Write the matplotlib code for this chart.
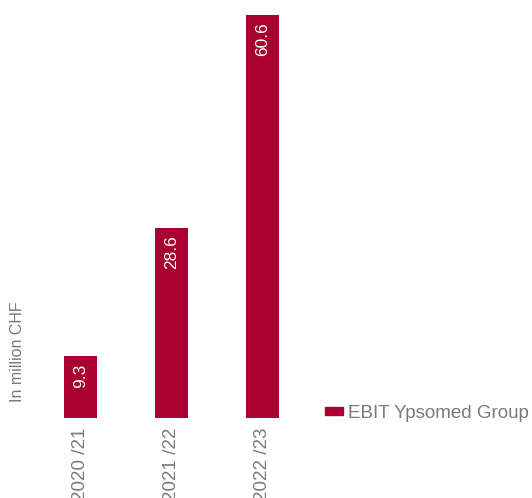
import matplotlib.pyplot as plt
import matplotlib.patches as mpatches

years = ['2020 /21', '2021 /22', '2022 /23']
ebit = [9.3, 28.6, 60.6]
bar_color = '#A8002F'
text_color = '#7a7a7a'

plt.rcParams['font.family'] = ['Liberation Sans', 'DejaVu Sans']

fig = plt.figure(figsize=(5.32, 4.98), dpi=100)
ax = fig.add_axes([35 / 532, 80 / 498, 273 / 532, 403 / 498])

x = range(len(years))
ax.bar(x, ebit, width=0.37, color=bar_color)
for i, v in zip(x, ebit):
    ax.text(i, v - 1.1, f'{v:.1f}', rotation=90, ha='center', va='top',
            color='white', fontsize=12.5)

ax.set_xlim(-0.5, 2.5)
ax.set_ylim(0, 60.6)
ax.set_xticks(list(x))
ax.set_xticklabels(years, rotation=90, color=text_color, fontsize=13.5)
ax.tick_params(axis='x', length=0, pad=7)
ax.set_yticks([])
for s in ax.spines.values():
    s.set_visible(False)

fig.text(18 / 532, 1 - 352 / 498, 'In million CHF', rotation=90, ha='center',
         va='center', color=text_color, fontsize=11.5)

handle = mpatches.Patch(color=bar_color, label='EBIT Ypsomed Group')
fig.legend(handles=[handle], loc='center left', bbox_to_anchor=(325 / 532, 1 - 413 / 498),
           frameon=False, fontsize=13.5, handlelength=0.95, handleheight=0.3,
           handletextpad=0.3, borderpad=0, borderaxespad=0, labelcolor=text_color)

fig.savefig('out.png', dpi=100)
